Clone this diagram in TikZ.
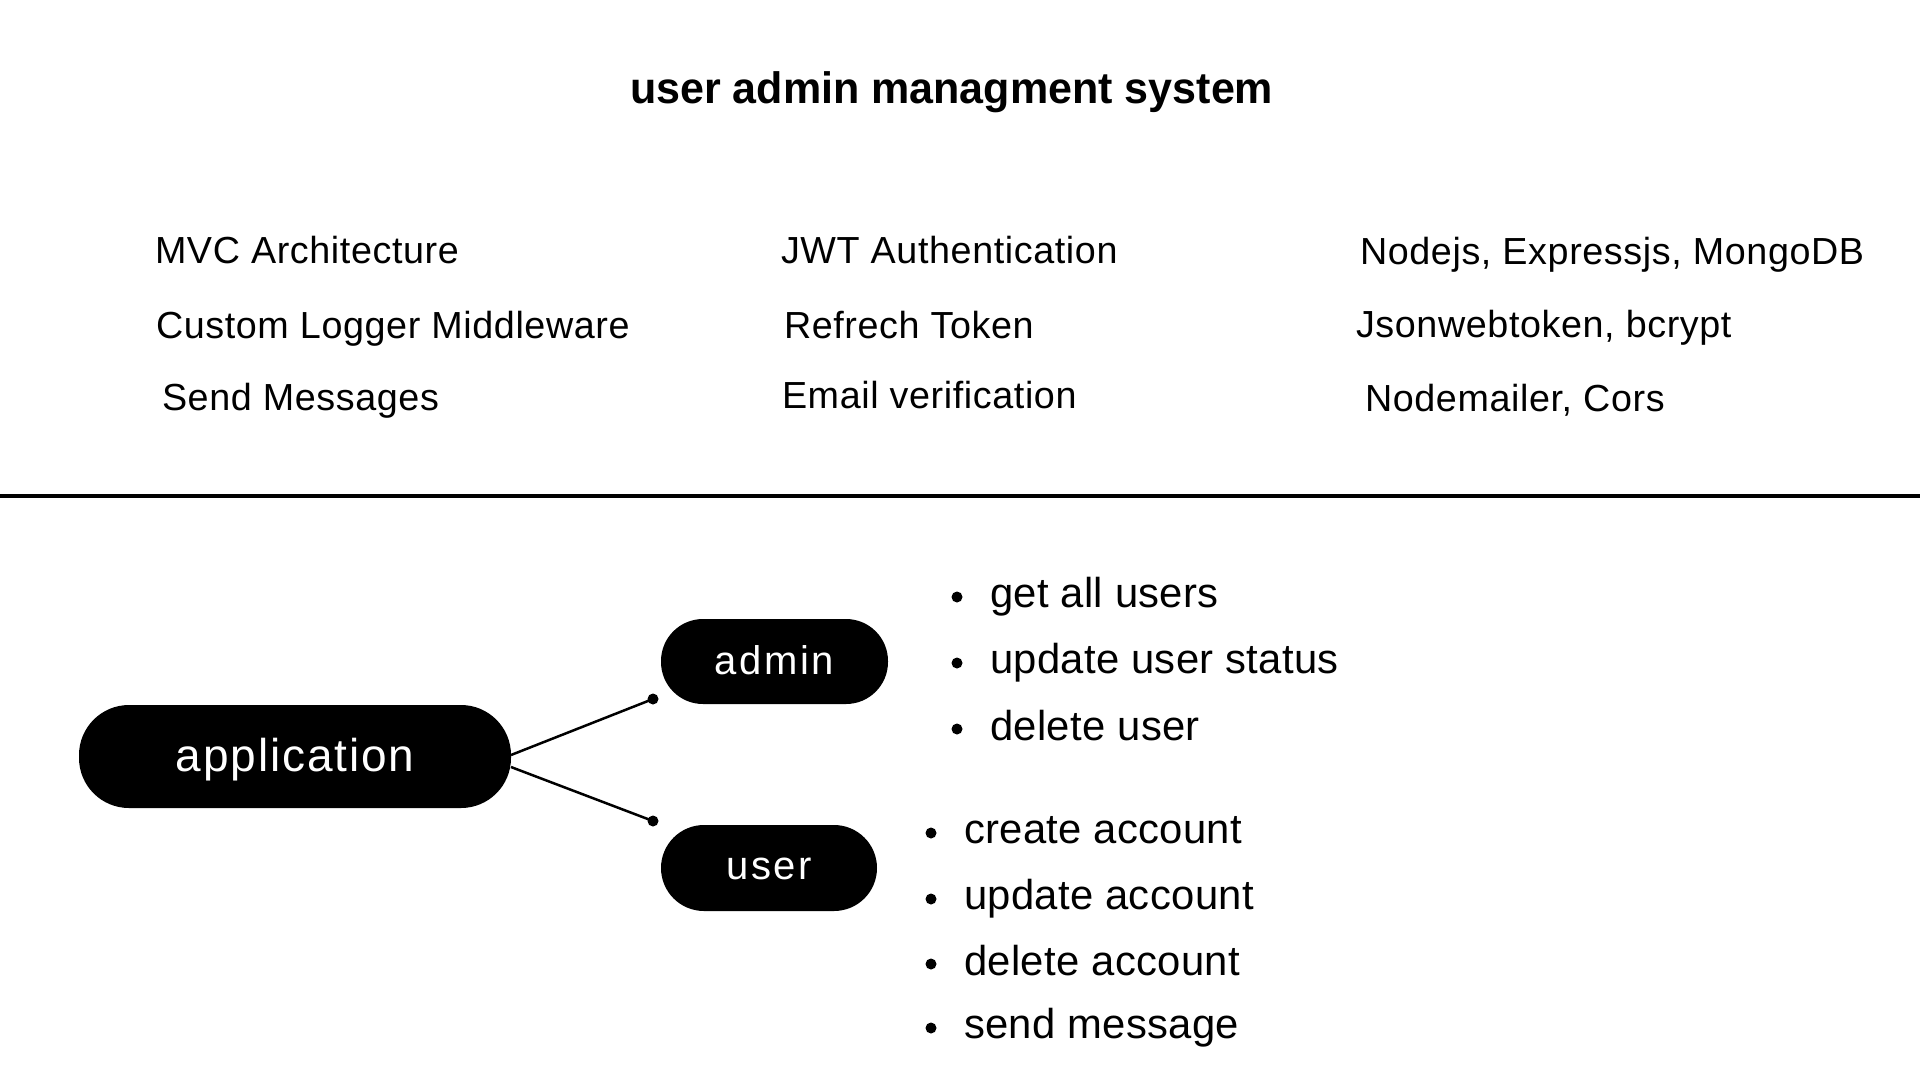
\documentclass[tikz,border=0pt]{standalone}
\usepackage{fontspec}
\setmainfont{Liberation Sans}
\newfontfamily\spacedfont[LetterSpace=4]{Liberation Sans}
\newfontfamily\smallspacedfont[LetterSpace=6.5]{Liberation Sans}
\newfontfamily\featfont[LetterSpace=1.6]{Liberation Sans}
\newfontfamily\itemfont[LetterSpace=0.8]{Liberation Sans}
\newfontfamily\titlefont[FakeStretch=0.978]{Liberation Sans}
\begin{document}
\begin{tikzpicture}[x=1pt,y=-1pt,
  txt/.style={anchor=base west,inner sep=0pt,outer sep=0pt},
  titletxt/.style={txt,font=\titlefont\fontsize{44}{50}\selectfont\bfseries},
  feat/.style={txt,font=\featfont\fontsize{37.7}{44}\selectfont},
  item/.style={txt,font=\itemfont\fontsize{41.8}{48}\selectfont},
  pill/.style={fill=black,text=white,rounded corners=#1,inner sep=0pt,outer sep=0pt,text depth=0pt},
  conn/.style={line width=2.5pt},
  dotmark/.style={fill=black}]
\useasboundingbox (0,0) rectangle (1920,1080);
\fill[white] (0,0) rectangle (1920,1080);

% title
\node[titletxt] (title) at (630,103) {user admin managment system};

% features
\node[feat] (f1) at (155,263) {MVC Architecture};
\node[feat] (f2) at (156,338) {Custom Logger Middleware};
\node[feat] (f3) at (162,410) {Send Messages};
\node[feat] (f4) at (781,263) {JWT Authentication};
\node[feat] (f5) at (784,338) {Refrech Token};
\node[feat] (f6) at (782,408) {Email verification};
\node[feat] (f7) at (1360,264) {Nodejs, Expressjs, MongoDB};
\node[feat] (f8) at (1356,337) {Jsonwebtoken, bcrypt};
\node[feat] (f9) at (1365,411) {Nodemailer, Cors};

% separator
\coordinate (sepL) at (0,496);
\coordinate (sepR) at (1920,496);
\draw[line width=4pt] (sepL) -- (sepR);

% nodes
\node[pill=50pt,minimum width=432pt,minimum height=103pt,text height=29pt,
      font=\spacedfont\fontsize{46}{52}\selectfont] (app) at (295,756.5) {application};
\node[pill=42pt,minimum width=227pt,minimum height=85pt,text height=25pt,
      font=\smallspacedfont\fontsize{40}{46}\selectfont] (admin) at (774.5,661.5) {admin};
\node[pill=43pt,minimum width=216pt,minimum height=86pt,text height=22pt,
      font=\smallspacedfont\fontsize{40}{46}\selectfont] (user) at (769,868) {user};

% connectors
\coordinate (ad) at (653,699);
\coordinate (ud) at (653,821);
\draw[conn] ([yshift=1.5pt]app.east) -- (ad);
\draw[conn] ([yshift=-10.5pt]app.east) -- (ud);
\fill[dotmark] (ad) circle (5.5pt);
\fill[dotmark] (ud) circle (5.5pt);

% admin list
\fill (957,597) circle (5.5pt);
\fill (957,663) circle (5.5pt);
\fill (957,729) circle (5.5pt);
\node[item] (a1) at (990,607) {get all users};
\node[item] (a2) at (990,673) {update user status};
\node[item] (a3) at (990,740) {delete user};

% user list
\fill (931,833) circle (5.5pt);
\fill (931,899) circle (5.5pt);
\fill (931,964) circle (5.5pt);
\fill (931,1028) circle (5.5pt);
\node[item] (u1) at (964,843) {create account};
\node[item] (u2) at (964,909) {update account};
\node[item] (u3) at (964,975) {delete account};
\node[item] (u4) at (964,1038) {send message};
\end{tikzpicture}
\end{document}
